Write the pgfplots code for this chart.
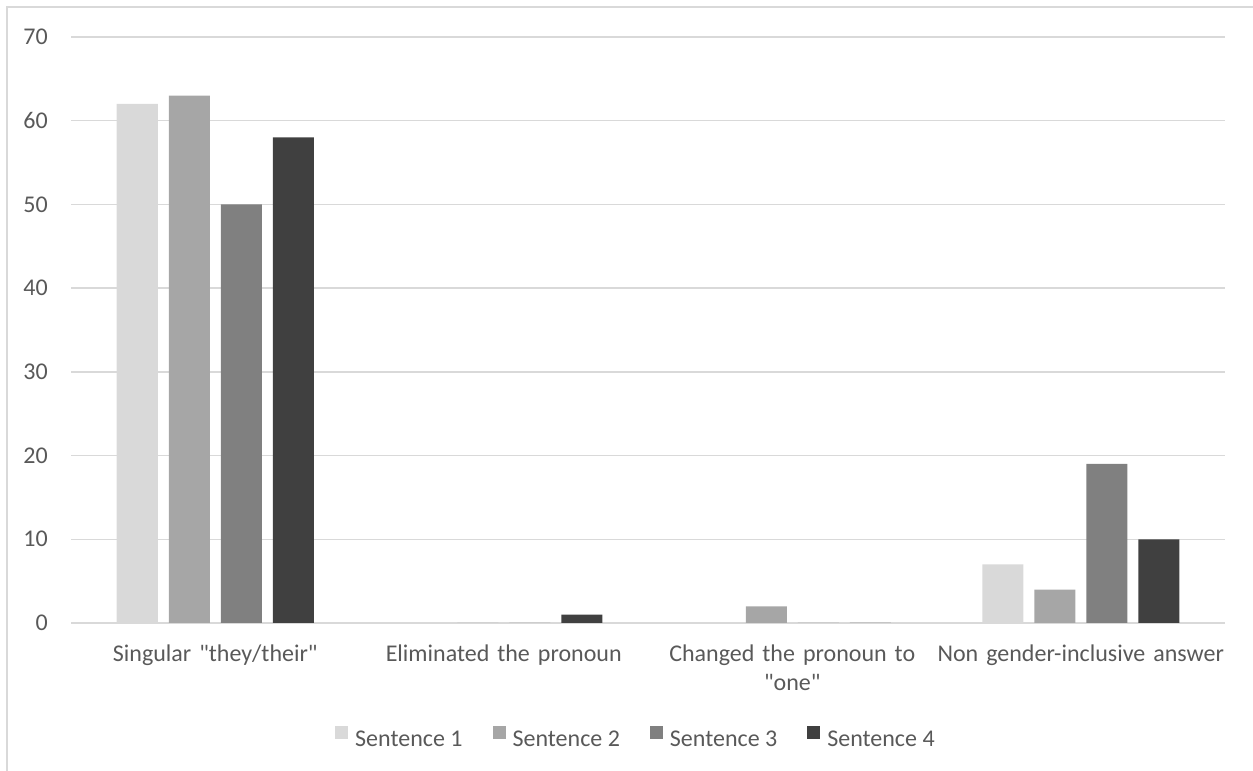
\documentclass[border=0pt]{standalone}
\usepackage{fontspec}
\setmainfont{Carlito}
\usepackage{pgfplots}
\pgfplotsset{compat=1.18}
\definecolor{s1}{HTML}{D9D9D9}
\definecolor{s2}{HTML}{A6A6A6}
\definecolor{s3}{HTML}{808080}
\definecolor{s4}{HTML}{404040}
\definecolor{txt}{HTML}{595959}
\definecolor{gridc}{HTML}{D9D9D9}
\begin{document}
\begin{tikzpicture}[x=1pt,y=1pt,font=\fontsize{24}{29}\selectfont]
\useasboundingbox (0,0) rectangle (1253,771);
\draw[gridc, line width=1.5pt] (7,-5) -- (7,764) -- (1260,764);
\begin{axis}[
  at={(71pt,148pt)}, anchor=south west,
  scale only axis, width=1154pt, height=586pt,
  ybar=11pt, bar width=41pt,
  xmin=-0.5, xmax=3.5, ymin=0, ymax=70,
  ytick={0,10,...,70},
  xtick={0,1,2,3},
  xticklabels={{Singular \textquotedbl they/their\textquotedbl},{Eliminated the pronoun},{Changed the pronoun to\\\textquotedbl one\textquotedbl},{Non gender-inclusive answer}},
  /pgf/number format/assume math mode=true,
  ymajorgrids, grid style={gridc, line width=1.5pt},
  axis line style={draw=none},
  major tick length=0pt, tick style={draw=none},
  xticklabel style={text width=300pt, align=center, inner sep=0pt, yshift=-22pt, text=txt},
  yticklabel style={inner sep=0pt, xshift=-23pt, text=txt},
  legend columns=4,
  legend style={at={(0.4887,-0.1945)}, anchor=center, draw=none, fill=none,
    text=txt, inner sep=0pt,
    /tikz/every odd column/.append style={column sep=7pt},
    /tikz/every even column/.append style={column sep=30pt},
    nodes={inner sep=0pt}},
  legend image code/.code={\fill[#1] (0pt,1pt) rectangle (13pt,14pt);},
]
\addplot[fill=s1, draw=none] coordinates {(0,62) (1,0) (2,0) (3,7)};
\addplot[fill=s2, draw=none] coordinates {(0,63) (1,0) (2,2) (3,4)};
\addplot[fill=s3, draw=none] coordinates {(0,50) (1,0) (2,0) (3,19)};
\addplot[fill=s4, draw=none] coordinates {(0,58) (1,1) (2,0) (3,10)};
\legend{Sentence 1, Sentence 2, Sentence 3, Sentence 4}
\end{axis}
\end{tikzpicture}
\end{document}
